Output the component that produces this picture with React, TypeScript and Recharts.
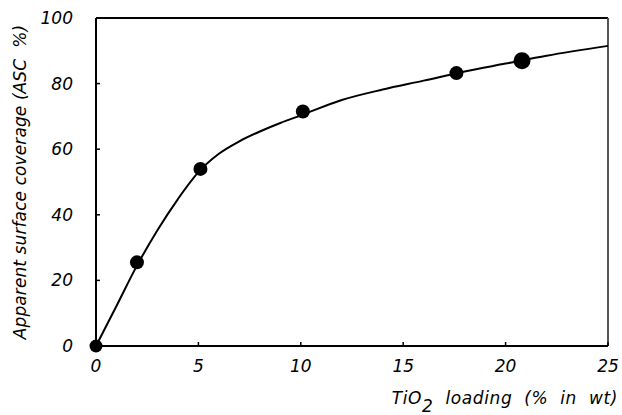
import React from 'react';
import { ComposedChart, Line, Scatter, XAxis, YAxis, ReferenceLine } from 'recharts';

const loadingPct = [0, 2.0, 5.1, 10.1, 17.6, 20.8];
const coveragePct = [0, 25.5, 54, 71.5, 83.2, 87];
const fitLoading = [0, 1, 2, 3, 4, 5, 6, 7, 8, 9, 10, 12, 14, 16, 18, 20, 22, 25];
const fitCoverage = [0, 12.2, 24.5, 35.3, 44.8, 53, 58.6, 62.4, 65.4, 68, 70.3, 75, 78.2, 80.9, 83.7, 86.1, 88.5, 91.5];
const xTicks = [0, 5, 10, 15, 20, 25];
const yTicks = [0, 20, 40, 60, 80, 100];

const points = loadingPct.map((x, i) => ({ x, y: coveragePct[i] }));
const fit = fitLoading.map((x, i) => ({ x, y: fitCoverage[i] }));

const FONT = "'DejaVu Sans', sans-serif";
const tickStyle = { fill: '#000', fontSize: 17, fontStyle: 'italic', fontFamily: FONT };

const XTitle = (props: any) => {
  const vb = props.viewBox || {};
  return (
    <text x={vb.x + vb.width + 10} y={vb.y + 58} textAnchor="end" fontSize={17} fontStyle="italic" fontFamily={FONT} fill="#000" letterSpacing={0.6} style={{ whiteSpace: 'pre' }}>
      TiO<tspan dy={8}>2</tspan>
      <tspan dy={-8}>{'  loading  (%  in  wt)'}</tspan>
    </text>
  );
};

const YTitle = (props: any) => {
  const vb = props.viewBox || {};
  const cx = vb.x + 20;
  const cy = vb.y + vb.height / 2;
  return (
    <text x={cx} y={cy} transform={`rotate(-90 ${cx} ${cy})`} textAnchor="middle" dominantBaseline="central" fontSize={17} fontStyle="italic" fontFamily={FONT} fill="#000" letterSpacing={0.1} style={{ whiteSpace: 'pre' }}>
      {'Apparent surface coverage (ASC  %)'}
    </text>
  );
};

const Dot = (props: any) => {
  const last = loadingPct[loadingPct.length - 1];
  const isLast = props.payload && props.payload.x === last;
  const isFirst = props.payload && props.payload.x === 0;
  const r = isLast ? 8.5 : isFirst ? 6.5 : 7;
  return <circle cx={props.cx} cy={props.cy} r={r} fill="#000" />;
};

export default function App() {
  return (
    <div style={{ position: 'absolute', left: 0, top: 0, width: 622, height: 415, background: '#fff' }}>
      <ComposedChart width={622} height={415} margin={{ top: 18, right: 14, bottom: 19, left: 0 }}>
        <XAxis
          type="number"
          dataKey="x"
          domain={[0, 25]}
          ticks={xTicks}
          height={50}
          axisLine={{ stroke: '#000', strokeWidth: 2 }}
          tickLine={{ stroke: '#000', strokeWidth: 1.5 }}
          tickSize={-4}
          tickMargin={18}
          tick={tickStyle}
          label={{ content: XTitle }}
        />
        <YAxis
          type="number"
          domain={[0, 100]}
          ticks={yTicks}
          width={96}
          axisLine={{ stroke: '#000', strokeWidth: 2 }}
          tickLine={{ stroke: '#000', strokeWidth: 1.5 }}
          tickSize={-4}
          tickMargin={27}
          tick={tickStyle}
          label={{ content: YTitle }}
        />
        <ReferenceLine y={100} stroke="#000" strokeWidth={2} />
        <ReferenceLine x={25} stroke="#555" strokeWidth={2} />
        <Line
          data={fit}
          dataKey="y"
          type="monotone"
          stroke="#000"
          strokeWidth={2}
          dot={false}
          activeDot={false}
          isAnimationActive={false}
        />
        <Scatter data={points} dataKey="y" shape={Dot} isAnimationActive={false} />
      </ComposedChart>
    </div>
  );
}
